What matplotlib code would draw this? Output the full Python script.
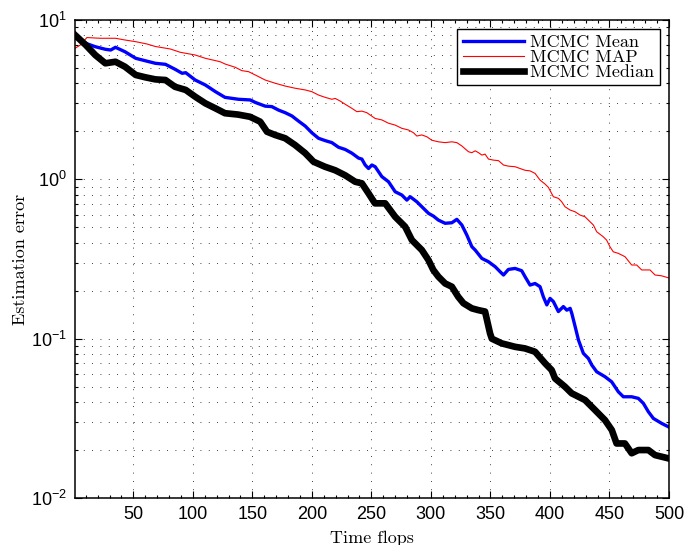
import matplotlib
matplotlib.use("Agg")
import matplotlib.pyplot as plt
from matplotlib.ticker import FixedLocator, LogLocator, NullFormatter

# ---- data ----
mean_x = [1, 10, 18, 26.5, 31, 35, 43, 52, 60, 68.5, 77, 85, 91, 94, 102, 110.5, 119, 127,
          138.4, 148.2, 152.4, 160.8, 166.4, 172, 177.6, 183.2, 188.8, 194.4, 200, 205.6,
          211.2, 216.8, 222.4, 228, 233.6, 239.2, 242, 244.8, 247.6, 250.4, 253.2, 258.8,
          264.4, 270, 275.6, 279.8, 282.6, 288.2, 292.4, 298, 302.1, 306.3, 311.9, 317.6,
          321.8, 326, 330.2, 334.4, 337.2, 342.8, 348.4, 354, 358.2, 361, 365.1, 370.7,
          376.3, 379.1, 383.3, 387.5, 391.7, 394.5, 397.4, 400.1, 402.9, 407.1, 411.3,
          414.2, 417, 418.4, 421.2, 424, 428.1, 432.3, 435.2, 439.3, 446.3, 451.9, 457.5,
          461.7, 468.7, 474.3, 478.5, 482.7, 486.9, 493.9, 499.5]
mean_y = [7.85, 7.14, 6.80, 6.55, 6.48, 6.74, 6.32, 5.75, 5.55, 5.35, 5.27, 4.91, 4.63, 4.67,
          4.20, 3.91, 3.55, 3.27, 3.18, 3.15, 3.04, 2.88, 2.86, 2.72, 2.62, 2.50, 2.32, 2.16,
          1.96, 1.81, 1.75, 1.70, 1.59, 1.54, 1.46, 1.36, 1.34, 1.23, 1.17, 1.23, 1.20, 1.04,
          0.966, 0.836, 0.797, 0.741, 0.778, 0.723, 0.673, 0.612, 0.588, 0.555, 0.530, 0.534,
          0.561, 0.517, 0.447, 0.378, 0.360, 0.319, 0.304, 0.283, 0.263, 0.251, 0.272, 0.276,
          0.267, 0.245, 0.217, 0.222, 0.212, 0.183, 0.163, 0.179, 0.171, 0.148, 0.159,
          0.151, 0.155, 0.144, 0.119, 0.098, 0.0809, 0.0752, 0.0683, 0.0620, 0.0577, 0.0536,
          0.0464, 0.0432, 0.0432, 0.0422, 0.0393, 0.0348, 0.0316, 0.0294, 0.0280]

map_x = [1, 5.5, 11, 22, 35, 43, 52, 61.5, 68.5, 81, 89.5, 102, 110.5, 123, 127.2, 135.6,
         141.2, 146.8, 152.4, 160.8, 169.2, 177.6, 186, 194.4, 200, 205.6, 211.2, 216.8,
         219.6, 223.8, 228, 233.6, 237.8, 242, 246.2, 253.2, 258.8, 264.4, 270, 275.6,
         281.2, 285.4, 288.2, 292.4, 296.6, 300.8, 306.3, 311.9, 317.6, 321.8, 326, 331.6,
         334.4, 337.2, 340, 342.8, 345.5, 348.4, 352.6, 356.8, 361, 365.1, 370.7, 379.1,
         383.3, 387.5, 391.7, 395.9, 398.7, 402.9, 407.1, 409.9, 412.7, 416.9, 421.1,
         425.3, 429.5, 432.3, 436.5, 439.3, 444.8, 447.6, 450.4, 453.2, 457.5, 463.1,
         468.7, 472.9, 477.1, 481.3, 484.1, 488.3, 493.9, 499.5]
map_y = [6.64, 6.97, 7.76, 7.68, 7.68, 7.49, 7.31, 7.07, 6.82, 6.58, 6.27, 6.03, 5.75, 5.47,
         5.29, 5.05, 4.81, 4.74, 4.52, 4.20, 4.01, 3.85, 3.73, 3.64, 3.55, 3.38, 3.27, 3.18,
         3.22, 3.10, 2.96, 2.79, 2.66, 2.68, 2.62, 2.41, 2.36, 2.25, 2.19, 2.09, 2.04, 1.96,
         1.87, 1.90, 1.85, 1.76, 1.72, 1.70, 1.72, 1.70, 1.62, 1.49, 1.47, 1.51, 1.47, 1.42,
         1.44, 1.34, 1.32, 1.31, 1.23, 1.21, 1.20, 1.14, 1.13, 1.09, 0.99, 0.934, 0.891,
         0.778, 0.760, 0.723, 0.673, 0.642, 0.626, 0.597, 0.582, 0.555, 0.517, 0.469, 0.436,
         0.416, 0.378, 0.351, 0.343, 0.327, 0.290, 0.290, 0.270, 0.270, 0.270, 0.251, 0.248,
         0.241]

median_x = [1, 10, 18, 26.5, 35, 43, 52, 60, 68.5, 77, 85, 94, 102, 110.5, 119, 127, 138,
            148, 156.6, 162.3, 169, 177.6, 186, 194.4, 201.4, 211, 219.6, 228, 236.4, 242,
            247.6, 253, 261.6, 270, 278.4, 284, 292.4, 298, 302, 306.3, 312, 317.6, 323,
            327.3, 334.4, 340, 345.5, 349.7, 351.2, 359.6, 365, 370.7, 379, 387.5, 396,
            401.5, 404.3, 412.7, 418.3, 429.5, 438, 446.3, 452, 456, 463, 468.7, 474.3,
            482.7, 488.3, 500]
median_y = [8.05, 6.97, 6.03, 5.35, 5.47, 5.09, 4.52, 4.37, 4.24, 4.20, 3.81, 3.64, 3.30,
            3.00, 2.79, 2.60, 2.55, 2.47, 2.30, 1.99, 1.90, 1.81, 1.64, 1.46, 1.29, 1.20,
            1.14, 1.06, 0.966, 0.944, 0.817, 0.707, 0.707, 0.582, 0.504, 0.416, 0.360, 0.311,
            0.270, 0.245, 0.222, 0.212, 0.183, 0.167, 0.155, 0.151, 0.148, 0.108, 0.100,
            0.0934, 0.0912, 0.0889, 0.0869, 0.0828, 0.0700, 0.0635, 0.0563, 0.0499, 0.0454,
            0.0412, 0.0356, 0.0308, 0.0267, 0.0220, 0.0220, 0.0191, 0.0200, 0.0200, 0.0186,
            0.0177]

labels = ["MCMC Mean", "MCMC MAP", "MCMC Median"]
x_ticks = [50, 100, 150, 200, 250, 300, 350, 400, 450, 500]

# ---- figure ----
plt.rcParams['font.family'] = ['Liberation Sans', 'DejaVu Sans']
plt.rcParams['mathtext.fontset'] = 'cm'

fig = plt.figure(figsize=(6.99, 5.45), dpi=100)
ax = fig.add_axes([0.1073, 0.0862, 0.8497, 0.8771])

ax.plot(mean_x, mean_y, color='#0000ff', lw=2.4, label=labels[0], solid_joinstyle='round')
ax.plot(map_x, map_y, color='#ff0000', lw=0.8, label=labels[1])
ax.plot(median_x, median_y, color='black', lw=4.8, label=labels[2], solid_joinstyle='round')

ax.set_yscale('log')
ax.set_xlim(1, 500)
ax.set_ylim(1e-2, 1e1)
ax.xaxis.set_major_locator(FixedLocator(x_ticks))
ax.set_xticklabels([str(t) for t in x_ticks])
ax.xaxis.set_minor_locator(FixedLocator(list(range(10, 501, 10))))
ax.yaxis.set_minor_locator(LogLocator(base=10, subs=range(2, 10)))
ax.yaxis.set_minor_formatter(NullFormatter())

grid_ls = (0, (1, 9))
ax.grid(True, which='major', axis='both', color='black', lw=0.6, linestyle=grid_ls)
ax.grid(True, which='minor', axis='y', color='black', lw=0.6, linestyle=grid_ls)

ax.tick_params(which='both', direction='in', top=True, right=True, labelsize=13,
               width=0.8, pad=6)
ax.tick_params(which='major', length=5)
ax.tick_params(which='minor', length=2.5)
for s in ax.spines.values():
    s.set_linewidth(1.1)

ax.set_xlabel('Time flops', family='cmr10', fontsize=13, labelpad=5)
ax.set_ylabel('Estimation error', family='cmr10', fontsize=13, labelpad=2)

leg = ax.legend(loc='upper right', prop={'family': 'cmr10', 'size': 13},
                fancybox=False, framealpha=1, edgecolor='black', borderaxespad=0.5,
                labelspacing=-0.04, handlelength=3.4, handletextpad=0.35, borderpad=0.3)
leg.get_frame().set_linewidth(1.0)

fig.savefig('out.png', dpi=100)
